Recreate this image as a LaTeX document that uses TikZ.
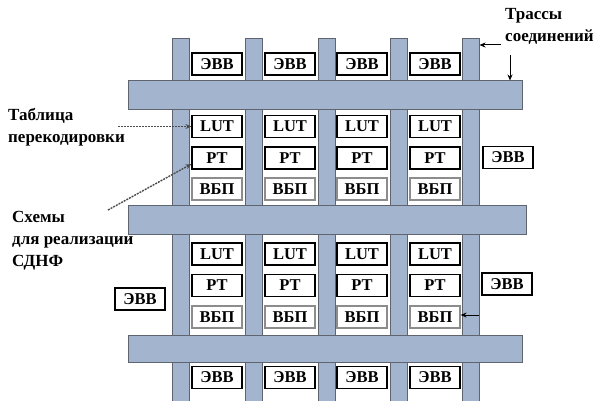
\documentclass[tikz,border=0pt]{standalone}
\usepackage{fontspec}
\setmainfont{Liberation Serif}[BoldFont={Liberation Serif Bold}]
\usetikzlibrary{arrows.meta}
\definecolor{barblue}{RGB}{163,181,206}
\definecolor{barline}{RGB}{95,100,110}
\tikzset{
  vbar/.style={draw=barline, fill=barblue, line width=1pt, minimum width=17pt,
    minimum height=362pt, inner sep=0pt},
  hbar/.style={draw=barline, fill=barblue, line width=1pt, minimum height=29pt,
    inner sep=0pt},
  cell/.style={draw, fill=white, line width=1.2pt, minimum width=50pt,
    minimum height=22pt, inner sep=0pt, font=\fontsize{16.5}{16.5}\selectfont\bfseries},
  dimcell/.style={cell, draw=black!45},
  lbl/.style={align=left, inner sep=0pt, font=\fontsize{17}{22}\selectfont\bfseries},
  ptr/.style={-{Stealth[length=6pt,width=5pt]}, line width=1pt},
  dotptr/.style={ptr, dash pattern=on 2pt off 1pt, line width=1.4pt, draw=black!70}
}
\begin{document}
\begin{tikzpicture}[x=1pt,y=-1pt]
  \useasboundingbox (0,0) rectangle (599,401);
  % Routing tracks
  \foreach \x [count=\i] in {180.5,253.5,326.5,398.5,470.5}
    \node[vbar] (v\i) at (\x,220) {};
  \node[hbar, minimum width=394pt] (h1) at (325,95.5) {};
  \node[hbar, minimum width=398pt] (h2) at (327,219.5) {};
  \node[hbar, minimum width=394pt, minimum height=27pt] (h3) at (325,348.5) {};
  % Logic cells
  \foreach \x [count=\i] in {217,290,362,435}{
    \node[cell] (evt\i) at (\x,64) {ЭВВ};
    \node[cell] (luta\i) at (\x,126.5) {LUT};
    \node[cell] (pta\i) at (\x,158) {PT};
    \node[dimcell] (vbpa\i) at (\x,189) {ВБП};
    \node[cell] (lutb\i) at (\x,254) {LUT};
    \node[cell] (ptb\i) at (\x,285.5) {PT};
    \node[dimcell] (vbpb\i) at (\x,317) {ВБП};
    \node[cell] (evb\i) at (\x,377.5) {ЭВВ};
  }
  % Side I/O blocks
  \node[cell] (evr1) at (508,157.5) {ЭВВ};
  \node[cell] (evr2) at (507,284) {ЭВВ};
  \node[cell] (evl) at (140,299) {ЭВВ};
  % Labels
  \node[lbl, anchor=north west] (trass) at (505,8) {Трассы\\соединений};
  \node[lbl, anchor=north west] (tabl) at (8,108) {Таблица\\перекодировки};
  \node[lbl, anchor=north west] (sdnf) at (12,211) {Схемы\\для реализации\\СДНФ};
  % Pointers
  \coordinate (ta) at (501,45);
  \coordinate (tb) at (510,55);
  \coordinate (vb) at (479,315);
  \coordinate (lt) at (118,126.5);
  \coordinate (sx) at (108,210);
  \draw[ptr] (ta) -- (v5.east |- ta);
  \draw[ptr] (tb) -- (tb |- h1.north);
  \draw[ptr] (vb) -- (vbpb4.east |- vb);
  \draw[dotptr] (lt) -- (luta1.west);
  \draw[dotptr] (sx) -- ([yshift=-6pt]pta1.west);
\end{tikzpicture}
\end{document}
